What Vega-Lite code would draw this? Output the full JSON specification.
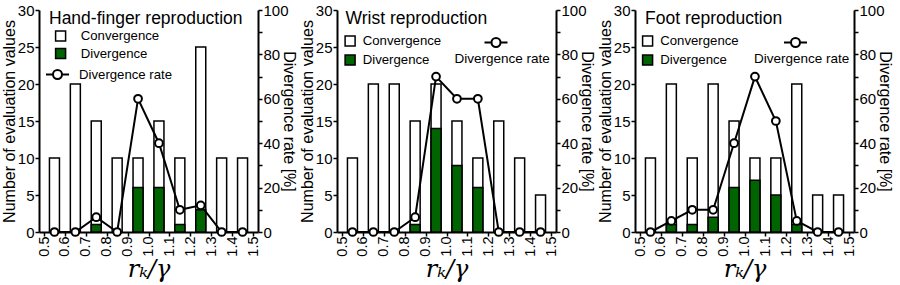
{
  "$schema": "https://vega.github.io/schema/vega-lite/v6.json",
  "padding": {"left": 1, "top": 3, "right": 0, "bottom": 0},
  "background": "white",
  "config": {
    "view": {"stroke": null},
    "font": "Liberation Sans",
    "axis": {"grid": false, "domainColor": "black", "domainWidth": 2, "tickColor": "black", "tickWidth": 1.5, "tickSize": 4, "labelColor": "black", "titleColor": "black", "labelFont": "Liberation Sans", "titleFont": "Liberation Sans", "labelFontSize": 15, "titleFontSize": 16, "titleFontWeight": "normal", "labelPadding": 1, "titlePadding": 0, "labelOverlap": false, "labelFlush": false},
    "legend": {"labelColor": "black", "titleColor": "black", "labelFont": "Liberation Sans", "titleFont": "Liberation Sans", "labelFontSize": 13.2, "titleFontSize": 13.5, "titleFontWeight": "normal", "padding": 0},
    "title": {"font": "Liberation Sans", "fontSize": 16, "fontWeight": "normal", "color": "black"}
  },
  "datasets": {
    "hand": [
      {"r": 0.55, "Convergence": 10, "Divergence": 0, "rate": 0},
      {"r": 0.65, "Convergence": 20, "Divergence": 0, "rate": 0},
      {"r": 0.75, "Convergence": 15, "Divergence": 1, "rate": 6.67},
      {"r": 0.85, "Convergence": 10, "Divergence": 0, "rate": 0},
      {"r": 0.95, "Convergence": 10, "Divergence": 6, "rate": 60},
      {"r": 1.05, "Convergence": 15, "Divergence": 6, "rate": 40},
      {"r": 1.15, "Convergence": 10, "Divergence": 1, "rate": 10},
      {"r": 1.25, "Convergence": 25, "Divergence": 3, "rate": 12},
      {"r": 1.35, "Convergence": 10, "Divergence": 0, "rate": 0},
      {"r": 1.45, "Convergence": 10, "Divergence": 0, "rate": 0}
    ],
    "wrist": [
      {"r": 0.55, "Convergence": 10, "Divergence": 0, "rate": 0},
      {"r": 0.65, "Convergence": 20, "Divergence": 0, "rate": 0},
      {"r": 0.75, "Convergence": 20, "Divergence": 0, "rate": 0},
      {"r": 0.85, "Convergence": 15, "Divergence": 1, "rate": 6.67},
      {"r": 0.95, "Convergence": 20, "Divergence": 14, "rate": 70},
      {"r": 1.05, "Convergence": 15, "Divergence": 9, "rate": 60},
      {"r": 1.15, "Convergence": 10, "Divergence": 6, "rate": 60},
      {"r": 1.25, "Convergence": 15, "Divergence": 0, "rate": 0},
      {"r": 1.35, "Convergence": 10, "Divergence": 0, "rate": 0},
      {"r": 1.45, "Convergence": 5, "Divergence": 0, "rate": 0}
    ],
    "foot": [
      {"r": 0.55, "Convergence": 10, "Divergence": 0, "rate": 0},
      {"r": 0.65, "Convergence": 20, "Divergence": 1, "rate": 5},
      {"r": 0.75, "Convergence": 10, "Divergence": 1, "rate": 10},
      {"r": 0.85, "Convergence": 20, "Divergence": 2, "rate": 10},
      {"r": 0.95, "Convergence": 15, "Divergence": 6, "rate": 40},
      {"r": 1.05, "Convergence": 10, "Divergence": 7, "rate": 70},
      {"r": 1.15, "Convergence": 10, "Divergence": 5, "rate": 50},
      {"r": 1.25, "Convergence": 20, "Divergence": 1, "rate": 5},
      {"r": 1.35, "Convergence": 5, "Divergence": 0, "rate": 0},
      {"r": 1.45, "Convergence": 5, "Divergence": 0, "rate": 0}
    ]
  },
  "spacing": 2,
  "resolve": {"scale": {"fill": "independent", "stroke": "independent"}, "legend": {"fill": "independent", "stroke": "independent"}},
  "hconcat": [
    {
      "width": 219, "height": 222,
      "data": {"name": "hand"},
      "layer": [
        {
          "layer": [
            {
              "mark": {"type": "bar", "size": 10, "stroke": "black", "strokeWidth": 1.5},
              "encoding": {
                "x": {"field": "r", "type": "quantitative", "scale": {"domain": [0.5, 1.5], "nice": false, "zero": false}, "axis": {"values": [0.5, 0.6, 0.7, 0.8, 0.9, 1.0, 1.1, 1.2, 1.3, 1.4, 1.5], "tickCount": 100, "labelOverlap": false, "format": ".1f", "labelAngle": -90, "labelFontSize": 14.5, "labelPadding": 0, "title": "rₖ/γ", "titleFont": "DejaVu Serif", "titleFontStyle": "italic", "titleFontSize": 24, "titlePadding": 1}},
                "y": {"field": "Convergence", "type": "quantitative", "scale": {"domain": [0, 30], "nice": false}, "axis": {"values": [0, 5, 10, 15, 20, 25, 30], "tickCount": 100, "format": "d", "labelOverlap": false, "title": "Number of evaluation values"}},
                "fill": {"datum": "Convergence", "type": "nominal", "scale": {"domain": ["Convergence", "Divergence"], "range": ["white", "#006400"]}, "legend": {"orient": "none", "legendX": 10, "legendY": 0, "title": "Hand-finger reproduction", "titleFontSize": 17.5, "titlePadding": 2, "titleLimit": 300, "symbolOffset": 5, "symbolType": "square", "symbolSize": 100, "symbolStrokeColor": "black", "symbolStrokeWidth": 1.5, "symbolOpacity": 1, "labelOffset": 13.5, "rowPadding": 0.5}}
              }
            },
            {
              "mark": {"type": "bar", "size": 10, "stroke": "black", "strokeWidth": 1.5},
              "encoding": {
                "x": {"field": "r", "type": "quantitative"},
                "y": {"field": "Divergence", "type": "quantitative"},
                "fill": {"datum": "Divergence", "type": "nominal"}
              }
            }
          ]
        },
        {
          "mark": {"type": "line", "strokeWidth": 2, "point": {"filled": false, "fill": "white", "size": 60, "strokeWidth": 2, "opacity": 1}},
          "encoding": {
            "x": {"field": "r", "type": "quantitative"},
            "y": {"field": "rate", "type": "quantitative", "scale": {"domain": [0, 100], "nice": false}, "axis": {"orient": "right", "values": [0, 10, 20, 30, 40, 50, 60, 70, 80, 90, 100], "tickCount": 100, "format": "d", "labelOverlap": false, "labelExpr": "datum.value % 20 == 0 ? datum.label : ''", "title": "Divergence rate [%]", "titlePadding": -8}},
            "stroke": {"datum": "Divergence rate", "type": "nominal", "scale": {"domain": ["Divergence rate"], "range": ["black"]}, "legend": {"orient": "none", "legendX": 6, "legendY": 52, "title": null, "symbolType": "M-1,0H-0.39M0.39,0H1M-0.39,0A0.39,0.39,0,1,1,0.39,0A0.39,0.39,0,1,1,-0.39,0Z", "symbolSize": 529, "symbolStrokeWidth": 2, "symbolFillColor": "white", "symbolStrokeColor": "black", "labelOffset": 9}}
          }
        }
      ],
      "resolve": {"scale": {"y": "independent"}}
    },
    {
      "width": 219, "height": 222,
      "data": {"name": "wrist"},
      "layer": [
        {
          "layer": [
            {
              "mark": {"type": "bar", "size": 10, "stroke": "black", "strokeWidth": 1.5},
              "encoding": {
                "x": {"field": "r", "type": "quantitative", "scale": {"domain": [0.5, 1.5], "nice": false, "zero": false}, "axis": {"values": [0.5, 0.6, 0.7, 0.8, 0.9, 1.0, 1.1, 1.2, 1.3, 1.4, 1.5], "tickCount": 100, "labelOverlap": false, "format": ".1f", "labelAngle": -90, "labelFontSize": 14.5, "labelPadding": 0, "title": "rₖ/γ", "titleFont": "DejaVu Serif", "titleFontStyle": "italic", "titleFontSize": 24, "titlePadding": 1}},
                "y": {"field": "Convergence", "type": "quantitative", "scale": {"domain": [0, 30], "nice": false}, "axis": {"values": [0, 5, 10, 15, 20, 25, 30], "tickCount": 100, "format": "d", "labelOverlap": false, "title": "Number of evaluation values"}},
                "fill": {"datum": "Convergence", "type": "nominal", "scale": {"domain": ["Convergence", "Divergence"], "range": ["white", "#006400"]}, "legend": {"orient": "none", "legendX": 8.5, "legendY": 0, "title": "Wrist reproduction", "titleFontSize": 17.5, "titlePadding": 7, "titleLimit": 300, "symbolOffset": -2, "symbolType": "square", "symbolSize": 100, "symbolStrokeColor": "black", "symbolStrokeWidth": 1.5, "symbolOpacity": 1, "labelOffset": 6, "rowPadding": 2}}
              }
            },
            {
              "mark": {"type": "bar", "size": 10, "stroke": "black", "strokeWidth": 1.5},
              "encoding": {
                "x": {"field": "r", "type": "quantitative"},
                "y": {"field": "Divergence", "type": "quantitative"},
                "fill": {"datum": "Divergence", "type": "nominal"}
              }
            }
          ]
        },
        {
          "mark": {"type": "line", "strokeWidth": 2, "point": {"filled": false, "fill": "white", "size": 60, "strokeWidth": 2, "opacity": 1}},
          "encoding": {
            "x": {"field": "r", "type": "quantitative"},
            "y": {"field": "rate", "type": "quantitative", "scale": {"domain": [0, 100], "nice": false}, "axis": {"orient": "right", "values": [0, 10, 20, 30, 40, 50, 60, 70, 80, 90, 100], "tickCount": 100, "format": "d", "labelOverlap": false, "labelExpr": "datum.value % 20 == 0 ? datum.label : ''", "title": "Divergence rate [%]", "titlePadding": -8}},
            "stroke": {"datum": "Divergence rate", "type": "nominal", "scale": {"domain": ["Divergence rate"], "range": ["black"]}, "legend": {"orient": "none", "legendX": 117.5, "legendY": 20, "title": "Divergence rate", "titleOrient": "bottom", "titlePadding": 1, "labelExpr": "''", "symbolOffset": 29, "symbolType": "M-1,0H-0.39M0.39,0H1M-0.39,0A0.39,0.39,0,1,1,0.39,0A0.39,0.39,0,1,1,-0.39,0Z", "symbolSize": 529, "symbolStrokeWidth": 2, "symbolFillColor": "white", "symbolStrokeColor": "black"}}
          }
        }
      ],
      "resolve": {"scale": {"y": "independent"}}
    },
    {
      "width": 219, "height": 222,
      "data": {"name": "foot"},
      "layer": [
        {
          "layer": [
            {
              "mark": {"type": "bar", "size": 10, "stroke": "black", "strokeWidth": 1.5},
              "encoding": {
                "x": {"field": "r", "type": "quantitative", "scale": {"domain": [0.5, 1.5], "nice": false, "zero": false}, "axis": {"values": [0.5, 0.6, 0.7, 0.8, 0.9, 1.0, 1.1, 1.2, 1.3, 1.4, 1.5], "tickCount": 100, "labelOverlap": false, "format": ".1f", "labelAngle": -90, "labelFontSize": 14.5, "labelPadding": 0, "title": "rₖ/γ", "titleFont": "DejaVu Serif", "titleFontStyle": "italic", "titleFontSize": 24, "titlePadding": 1}},
                "y": {"field": "Convergence", "type": "quantitative", "scale": {"domain": [0, 30], "nice": false}, "axis": {"values": [0, 5, 10, 15, 20, 25, 30], "tickCount": 100, "format": "d", "labelOverlap": false, "title": "Number of evaluation values"}},
                "fill": {"datum": "Convergence", "type": "nominal", "scale": {"domain": ["Convergence", "Divergence"], "range": ["white", "#006400"]}, "legend": {"orient": "none", "legendX": 10, "legendY": 0, "title": "Foot reproduction", "titleFontSize": 17.5, "titlePadding": 7, "titleLimit": 300, "symbolOffset": -4, "symbolType": "square", "symbolSize": 100, "symbolStrokeColor": "black", "symbolStrokeWidth": 1.5, "symbolOpacity": 1, "labelOffset": 6, "rowPadding": 2}}
              }
            },
            {
              "mark": {"type": "bar", "size": 10, "stroke": "black", "strokeWidth": 1.5},
              "encoding": {
                "x": {"field": "r", "type": "quantitative"},
                "y": {"field": "Divergence", "type": "quantitative"},
                "fill": {"datum": "Divergence", "type": "nominal"}
              }
            }
          ]
        },
        {
          "mark": {"type": "line", "strokeWidth": 2, "point": {"filled": false, "fill": "white", "size": 60, "strokeWidth": 2, "opacity": 1}},
          "encoding": {
            "x": {"field": "r", "type": "quantitative"},
            "y": {"field": "rate", "type": "quantitative", "scale": {"domain": [0, 100], "nice": false}, "axis": {"orient": "right", "values": [0, 10, 20, 30, 40, 50, 60, 70, 80, 90, 100], "tickCount": 100, "format": "d", "labelOverlap": false, "labelExpr": "datum.value % 20 == 0 ? datum.label : ''", "title": "Divergence rate [%]", "titlePadding": -8}},
            "stroke": {"datum": "Divergence rate", "type": "nominal", "scale": {"domain": ["Divergence rate"], "range": ["black"]}, "legend": {"orient": "none", "legendX": 119, "legendY": 20, "title": "Divergence rate", "titleOrient": "bottom", "titlePadding": 1, "labelExpr": "''", "symbolOffset": 29, "symbolType": "M-1,0H-0.39M0.39,0H1M-0.39,0A0.39,0.39,0,1,1,0.39,0A0.39,0.39,0,1,1,-0.39,0Z", "symbolSize": 529, "symbolStrokeWidth": 2, "symbolFillColor": "white", "symbolStrokeColor": "black"}}
          }
        }
      ],
      "resolve": {"scale": {"y": "independent"}}
    }
  ]
}
